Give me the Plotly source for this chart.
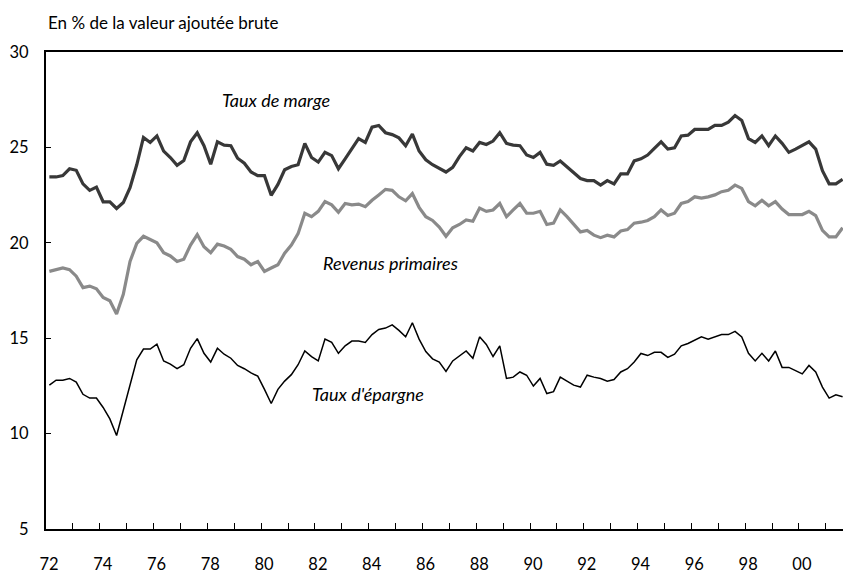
import plotly.graph_objects as go

# quarterly series, 1972Q1 -> 2001Q3 (% of gross value added)
first_year = 1972
n_quarters = 119

taux_de_marge = [
    23.45, 23.45, 23.52, 23.88, 23.80, 23.09, 22.75, 22.92, 22.15, 22.15,
    21.80, 22.11, 22.89, 24.09, 25.52, 25.26, 25.60, 24.81, 24.47, 24.06,
    24.31, 25.29, 25.77, 25.09, 24.12, 25.29, 25.12, 25.09, 24.43, 24.17,
    23.71, 23.52, 23.52, 22.49, 23.06, 23.83, 24.00, 24.09, 25.21, 24.47,
    24.23, 24.74, 24.57, 23.88, 24.40, 24.95, 25.46, 25.26, 26.06, 26.15,
    25.77, 25.67, 25.50, 25.09, 25.70, 24.81, 24.35, 24.09, 23.90, 23.71,
    23.95, 24.52, 24.98, 24.81, 25.26, 25.15, 25.33, 25.77, 25.21, 25.12,
    25.09, 24.60, 24.47, 24.74, 24.12, 24.06, 24.29, 24.00, 23.71, 23.37,
    23.26, 23.26, 23.02, 23.26, 23.09, 23.61, 23.61, 24.29, 24.40, 24.60,
    24.95, 25.29, 24.91, 24.98, 25.60, 25.64, 25.94, 25.94, 25.94, 26.15,
    26.15, 26.32, 26.67, 26.41, 25.46, 25.26, 25.60, 25.09, 25.60, 25.21,
    24.74, 24.91, 25.09, 25.29, 24.91, 23.78, 23.09, 23.09, 23.32,
]

revenus_primaires = [
    18.50, 18.59, 18.68, 18.59, 18.25, 17.65, 17.73, 17.59, 17.13, 16.96,
    16.27, 17.30, 19.02, 19.97, 20.34, 20.17, 20.00, 19.48, 19.31, 19.02,
    19.14, 19.88, 20.43, 19.79, 19.48, 19.93, 19.83, 19.66, 19.28, 19.14,
    18.85, 19.02, 18.50, 18.68, 18.85, 19.45, 19.88, 20.48, 21.55, 21.37,
    21.65, 22.16, 21.99, 21.60, 22.06, 21.99, 22.03, 21.89, 22.23, 22.51,
    22.80, 22.75, 22.41, 22.20, 22.58, 21.86, 21.37, 21.17, 20.82, 20.34,
    20.79, 20.96, 21.20, 21.13, 21.82, 21.65, 21.72, 22.06, 21.37, 21.72,
    22.06, 21.55, 21.55, 21.65, 20.96, 21.03, 21.72, 21.37, 20.96, 20.57,
    20.65, 20.40, 20.27, 20.40, 20.31, 20.62, 20.69, 21.03, 21.08, 21.17,
    21.37, 21.72, 21.43, 21.55, 22.06, 22.16, 22.41, 22.34, 22.41, 22.51,
    22.68, 22.75, 23.02, 22.85, 22.16, 21.94, 22.23, 21.94, 22.16, 21.77,
    21.48, 21.48, 21.48, 21.65, 21.43, 20.65, 20.31, 20.31, 20.79,
]

taux_epargne = [
    12.54, 12.80, 12.80, 12.89, 12.70, 12.06, 11.86, 11.86, 11.37, 10.77,
    9.90, 11.22, 12.54, 13.87, 14.43, 14.43, 14.69, 13.81, 13.64, 13.40,
    13.61, 14.47, 14.98, 14.21, 13.75, 14.47, 14.16, 13.95, 13.57, 13.40,
    13.18, 13.01, 12.32, 11.58, 12.32, 12.75, 13.09, 13.61, 14.33, 14.04,
    13.81, 14.95, 14.78, 14.21, 14.60, 14.85, 14.85, 14.78, 15.19, 15.46,
    15.53, 15.70, 15.41, 15.07, 15.81, 14.95, 14.30, 13.92, 13.75, 13.26,
    13.81, 14.09, 14.33, 13.95, 15.07, 14.67, 14.04, 14.60, 12.89, 12.96,
    13.23, 13.06, 12.49, 12.89, 12.10, 12.20, 12.96, 12.75, 12.54, 12.44,
    13.06, 12.96, 12.89, 12.75, 12.83, 13.23, 13.40, 13.75, 14.20, 14.09,
    14.26, 14.26, 13.99, 14.16, 14.60, 14.72, 14.90, 15.07, 14.95, 15.07,
    15.19, 15.19, 15.36, 15.07, 14.21, 13.81, 14.21, 13.81, 14.33, 13.47,
    13.47, 13.30, 13.13, 13.57, 13.23, 12.44, 11.86, 12.03, 11.93,
]

year_ticks = list(range(1972, 2002))
year_labels = [str(y)[2:] if y % 2 == 0 else "" for y in year_ticks]
y_ticks = [5, 10, 15, 20, 25, 30]

# each quarter drawn at the middle of its quarter
quarters = [first_year + (i + 0.5) / 4 for i in range(n_quarters)]

FONT = "Lato"

fig = go.Figure()
fig.add_trace(go.Scatter(x=quarters, y=taux_de_marge, mode="lines",
                         line=dict(color="#383838", width=3.2), name="Taux de marge"))
fig.add_trace(go.Scatter(x=quarters, y=revenus_primaires, mode="lines",
                         line=dict(color="#8a8a8a", width=3.2), name="Revenus primaires"))
fig.add_trace(go.Scatter(x=quarters, y=taux_epargne, mode="lines",
                         line=dict(color="#000000", width=1.5), name="Taux d'épargne"))

# series labels
labels = [
    ("Taux de marge", 1980.55, 27.47),
    ("Revenus primaires", 1984.83, 18.92),
    ("Taux d'épargne", 1983.97, 12.06),
]
for txt, xx, yy in labels:
    fig.add_annotation(x=xx, y=yy, text=f"<i>{txt}</i>", showarrow=False,
                       font=dict(family=FONT, size=18, color="#000"))

fig.add_annotation(xref="paper", yref="paper", x=0, y=1.062, xanchor="left", yanchor="middle",
                   text="En % de la valeur ajoutée brute", showarrow=False,
                   font=dict(family=FONT, size=17, color="#000"))

fig.update_xaxes(range=[1972, 2001.64], tickvals=year_ticks, ticktext=year_labels,
                 ticks="inside", ticklen=6, tickwidth=1.3, tickcolor="#000",
                 showline=True, linecolor="#000", linewidth=2, mirror=True,
                 showgrid=False, zeroline=False, ticklabelstandoff=19, ticklabelshift=3,
                 tickfont=dict(family=FONT, size=16.5, color="#000"))
fig.update_yaxes(range=[5, 30], tickvals=y_ticks,
                 ticks="inside", ticklen=5, tickwidth=1.3, tickcolor="#000",
                 showline=True, linecolor="#000", linewidth=2,
                 showgrid=False, zeroline=False, ticklabelstandoff=12,
                 tickfont=dict(family=FONT, size=16.5, color="#000"))

fig.update_layout(width=844, height=575, showlegend=False,
                  margin=dict(l=46, r=1, t=52, b=38),
                  plot_bgcolor="white", paper_bgcolor="white")

# drop the browser's default 8px body margin so the figure fills the window
fig.write_html("out.html", config={"displayModeBar": False},
               post_script="document.body.style.margin = '0';")
